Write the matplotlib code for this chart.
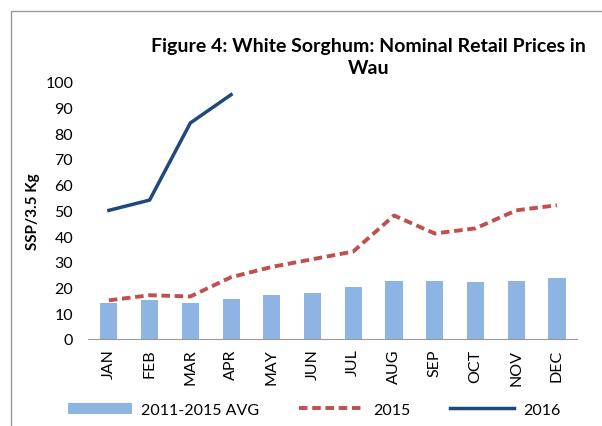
import numpy as np
import matplotlib.pyplot as plt
from matplotlib.patches import Rectangle

months = ['JAN', 'FEB', 'MAR', 'APR', 'MAY', 'JUN', 'JUL', 'AUG', 'SEP', 'OCT', 'NOV', 'DEC']
avg_11_15 = [14, 15, 14, 15.5, 17, 18, 20, 22.5, 22.5, 22, 22.5, 23.5]
p2015 = [15, 17, 16.5, 24, 28, 31, 34, 48, 41, 43, 50, 52]
p2016 = [50, 54, 84, 95]

plt.rcParams['font.family'] = ['Lato', 'DejaVu Sans']

fig = plt.figure(figsize=(6.02, 4.27), dpi=100)
# outer chart frame
fig.patches.append(Rectangle((11 / 602, -0.01), 1.0, 1 - 12 / 427 + 0.01, transform=fig.transFigure,
                             fill=False, edgecolor='#999999', lw=1))
ax = fig.add_axes([0.147, 0.204, 0.812, 0.602])

x = np.arange(len(months))
bars = ax.bar(x, avg_11_15, width=0.42, color='#8DB4E2', label='2011-2015 AVG')
l15, = ax.plot(x, p2015, color='#C0504D', lw=2.8, ls=(0, (2.2, 1.2)), label='2015')
l16, = ax.plot(x[:len(p2016)], p2016, color='#1F497D', lw=2.5, label='2016')

ax.set_xlim(-0.5, 11.5)
ax.set_ylim(0, 100)
ax.set_yticks(range(0, 101, 10))
ax.set_xticks(x)
ax.set_xticklabels(months, rotation=90, fontsize=11.5)
ax.tick_params(axis='y', labelsize=11.5, length=0, pad=11)
ax.tick_params(axis='x', length=0, pad=7)
for s in ['top', 'right', 'left']:
    ax.spines[s].set_visible(False)
ax.spines['bottom'].set_color('#999999')

ax.set_ylabel('SSP/3.5 Kg', fontsize=11, fontweight='bold', labelpad=4)
fig.text(0.612, 0.865, 'Figure 4: White Sorghum: Nominal Retail Prices in\nWau', ha='center', va='center',
         fontsize=14, fontweight='bold', linespacing=1.35)

fig.legend(handles=[bars, l15, l16], loc='lower center', bbox_to_anchor=(0.522, -0.012), ncol=3,
           frameon=False, fontsize=11.5, handlelength=4, columnspacing=2.5, handletextpad=0.6)

plt.savefig('out.png', dpi=100)
